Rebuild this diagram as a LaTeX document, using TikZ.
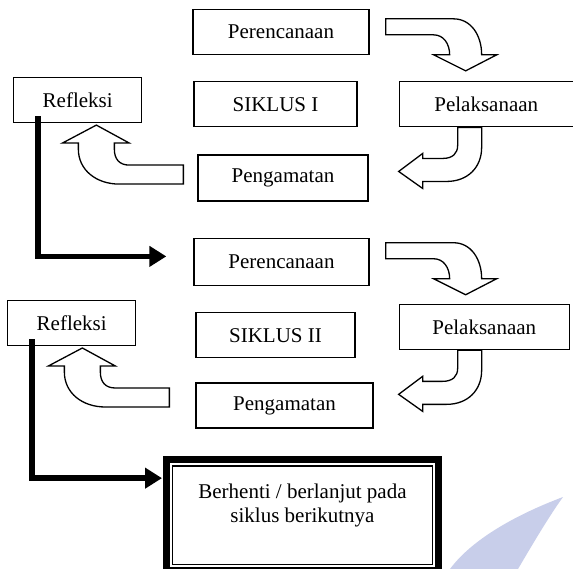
\documentclass[tikz,border=0pt]{standalone}
\usepackage{fontspec}
\setmainfont{Liberation Serif}
\usetikzlibrary{arrows.meta,positioning,calc}
\definecolor{markblue}{RGB}{200,206,234}

\begin{document}
\begin{tikzpicture}[
  x=1pt, y=1pt,
  box/.style={draw, line width=1.3pt, inner sep=0pt, minimum height=45pt,
              font=\fontsize{21}{24}\selectfont},
  stopbox/.style={draw, line width=7pt, inner sep=0pt, align=center,
              minimum width=272pt, minimum height=111pt,
              font=\fontsize{21}{24}\selectfont},
  flow/.style={line width=5.5pt, -{Triangle[length=17pt,width=20pt]}},
  blockarr/.style={draw, fill=white, line width=1.3pt},
  turnright/.pic={\path[blockarr] (0,0) -- (68,0) .. controls (85,0) and (96,-16) .. (96,-36)
    -- (111,-36) -- (80,-52) -- (48,-36) -- (64,-36) .. controls (64,-25) and (58,-16) .. (48,-16)
    -- (0,-16) -- cycle;},
  turndown/.pic={\path[blockarr] (0,0) -- (0,-18) .. controls (0,-26) and (-5,-31) .. (-15,-31)
    -- (-35,-31) -- (-35,-26) -- (-59,-44) -- (-35,-61) -- (-35,-54) -- (-11,-54)
    .. controls (10,-54) and (24,-40) .. (24,-20) -- (24,0) -- cycle;},
  turnup/.pic={\path[blockarr] (0,0) -- (-54,0) .. controls (-64,0) and (-69,6) .. (-69,16)
    -- (-69,22) -- (-54,22) -- (-87,40) -- (-121,22) -- (-105,22) -- (-105,16)
    .. controls (-105,-5) and (-87,-19) .. (-64,-19) -- (0,-19) -- cycle;}
]
  \useasboundingbox (0,0) rectangle (573,-569);
  \fill[white] (0,0) rectangle (573,-569);
  \fill[markblue] (563,-497) .. controls (510,-517) and (470,-542) .. (450,-569)
    -- (518,-569) .. controls (535,-540) and (550,-515) .. (563,-497) -- cycle;

  \node[box, minimum width=176pt] (plan1) at (281,-32) {Perencanaan};
  \node[box, minimum width=163pt, below=26pt of plan1, xshift=-5.5pt] (cyc1) {SIKLUS I};
  \node[box, minimum width=128pt, left=51pt of cyc1, yshift=4pt] (refl1) {Refleksi};
  \node[box, minimum width=174pt, right=41pt of cyc1] (act1) {Pelaksanaan};
  \node[box, minimum width=170pt, minimum height=46pt, below=27pt of cyc1, xshift=7.5pt] (obs1) {Pengamatan};
  \node[box, minimum width=175pt, minimum height=47pt, below=36pt of obs1, xshift=-1.5pt] (plan2) {Perencanaan};
  \node[box, minimum width=159pt, below=26pt of plan2, xshift=-6pt] (cyc2) {SIKLUS II};
  \node[box, minimum width=128pt, left=59pt of cyc2, yshift=12pt] (refl2) {Refleksi};
  \node[box, minimum width=170pt, right=43pt of cyc2, yshift=8pt] (act2) {Pelaksanaan};
  \node[box, minimum width=177pt, below=24pt of cyc2, xshift=9pt] (obs2) {Pengamatan};
  \node[stopbox, below=27.5pt of obs2, xshift=18pt] (stop) {Berhenti / berlanjut pada\\siklus berikutnya\\\mbox{}};
  \draw[line width=1.3pt] ([shift={(9.7,9.7)}]stop.south west) rectangle ([shift={(-9.7,-9.7)}]stop.north east);

  \pic at ($(plan1.north east)+(16,-10)$) {turnright};
  \pic at ($(act1.south west)+(59,0)$) {turndown};
  \pic at ($(obs1.west)+(-14,13)$) {turnup};
  \pic at ($(plan2.north east)+(16,-5)$) {turnright};
  \pic at ($(act2.south west)+(59,0)$) {turndown};
  \pic at ($(obs2.west)+(-26,17.5)$) {turnup};

  \draw[flow] ([shift={(25,7)}]refl1.south west) |- ([shift={(-27,5.5)}]plan2.west);
  \draw[flow] ([shift={(25,7)}]refl2.south west) |- ([shift={(-1,37)}]stop.west);
\end{tikzpicture}
\end{document}
